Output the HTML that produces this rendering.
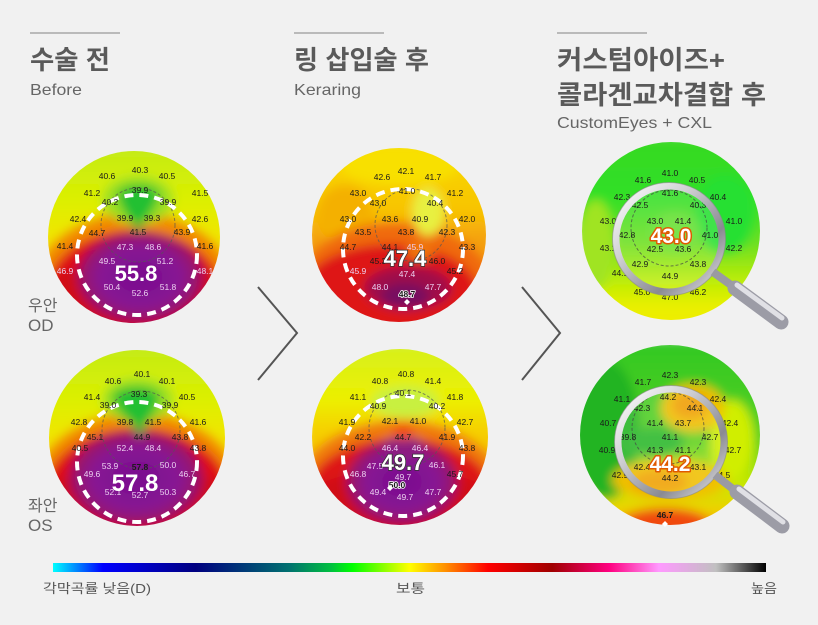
<!DOCTYPE html>
<html><head><meta charset="utf-8"><style>
html,body{margin:0;padding:0;background:#f1f1f1;}
svg{display:block;}
.k{font-family:"Liberation Sans","Noto Sans CJK KR",sans-serif;}
.n{font-family:"Liberation Sans",sans-serif;font-size:8.5px;text-anchor:middle;fill:#1a1a1a;}
.l{fill:#ecd0f0;}
.big{font-family:"Liberation Sans",sans-serif;font-weight:bold;text-anchor:middle;fill:#fff;}
</style></head><body>
<svg width="818" height="625" viewBox="0 0 818 625">
<defs>
 <filter id="b" x="-20%" y="-20%" width="140%" height="140%"><feGaussianBlur stdDeviation="5"/></filter>
 <clipPath id="c1"><circle cx="134" cy="237" r="86"/></clipPath>
 <clipPath id="c4"><circle cx="137" cy="438" r="88"/></clipPath>
 <clipPath id="c2"><circle cx="399" cy="235" r="87"/></clipPath>
 <clipPath id="c5"><circle cx="400" cy="437" r="88"/></clipPath>
 <clipPath id="c3"><circle cx="671" cy="231" r="89"/></clipPath>
 <clipPath id="c6"><circle cx="670" cy="435" r="90"/></clipPath>
 <linearGradient id="gT1" x1="0" y1="0" x2="0" y2="1">
  <stop offset="0" stop-color="#c0ea18"/><stop offset=".3" stop-color="#dcf000"/><stop offset=".5" stop-color="#f2e400"/><stop offset="1" stop-color="#f0c000"/>
 </linearGradient>
 <linearGradient id="gT2" x1="0" y1="0" x2="0" y2="1">
  <stop offset="0" stop-color="#f8dc00"/><stop offset=".35" stop-color="#f8c400"/><stop offset=".5" stop-color="#f4a010"/><stop offset="1" stop-color="#f08010"/>
 </linearGradient>
 <linearGradient id="gT5" x1="0" y1="0" x2="0" y2="1">
  <stop offset="0" stop-color="#d4f020"/><stop offset=".3" stop-color="#ecf000"/><stop offset=".45" stop-color="#f6d000"/><stop offset="1" stop-color="#f09010"/>
 </linearGradient>
 <linearGradient id="gT3" x1="0" y1="0" x2="0" y2="1">
  <stop offset="0" stop-color="#38d820"/><stop offset=".3" stop-color="#30e028"/><stop offset=".55" stop-color="#70e020"/><stop offset=".72" stop-color="#b8ec08"/><stop offset=".85" stop-color="#e8f000"/><stop offset="1" stop-color="#f4ec00"/>
 </linearGradient>
 <linearGradient id="gT6" x1="0" y1="0" x2="0" y2="1">
  <stop offset="0" stop-color="#30c820"/><stop offset=".5" stop-color="#58d020"/><stop offset=".72" stop-color="#c8e800"/><stop offset=".86" stop-color="#f0d000"/><stop offset="1" stop-color="#f07010"/>
 </linearGradient>
 <radialGradient id="pur" cx=".5" cy=".5" r=".5">
  <stop offset="0" stop-color="#780c8e"/><stop offset=".65" stop-color="#881694"/><stop offset="1" stop-color="#a0105c"/>
 </radialGradient>
 <linearGradient id="leg" x1="0" y1="0" x2="1" y2="0">
  <stop offset="0" stop-color="#00ffff"/><stop offset=".07" stop-color="#0000ff"/><stop offset=".2" stop-color="#000080"/><stop offset=".33" stop-color="#007070"/><stop offset=".39" stop-color="#00c040"/><stop offset=".42" stop-color="#00ff00"/><stop offset=".5" stop-color="#ffff00"/><stop offset=".55" stop-color="#ff9000"/><stop offset=".61" stop-color="#ff0000"/><stop offset=".7" stop-color="#a00000"/><stop offset=".78" stop-color="#ff0080"/><stop offset=".85" stop-color="#ff99ff"/><stop offset=".93" stop-color="#c0c0c0"/><stop offset="1" stop-color="#000000"/>
 </linearGradient>
 <linearGradient id="ring" x1="0" y1="0" x2="1" y2="1">
  <stop offset="0" stop-color="#ffffff"/><stop offset=".35" stop-color="#d0d0d4"/><stop offset=".7" stop-color="#8a8a92"/><stop offset="1" stop-color="#e8e8ea"/>
 </linearGradient>
</defs>

<rect width="818" height="625" fill="#f1f1f1"/>

<!-- Titles -->
<rect x="30" y="32" width="90" height="2" fill="#bababa"/>
<rect x="294" y="32" width="90" height="2" fill="#bababa"/>
<rect x="557" y="32" width="90" height="2" fill="#bababa"/>
<text class="k" x="30" y="69" font-size="26" font-weight="bold" fill="#5a5a5a" textLength="80" lengthAdjust="spacingAndGlyphs">수술 전</text>
<text class="k" x="30" y="95" font-size="16" fill="#666" textLength="52" lengthAdjust="spacingAndGlyphs">Before</text>
<text class="k" x="294" y="69" font-size="26" font-weight="bold" fill="#5a5a5a" textLength="135" lengthAdjust="spacingAndGlyphs">링 삽입술 후</text>
<text class="k" x="294" y="95" font-size="16" fill="#666" textLength="67" lengthAdjust="spacingAndGlyphs">Keraring</text>
<text class="k" x="557" y="69" font-size="26" font-weight="bold" fill="#5a5a5a" textLength="168" lengthAdjust="spacingAndGlyphs">커스텀아이즈+</text>
<text class="k" x="557" y="104" font-size="26" font-weight="bold" fill="#5a5a5a" textLength="209" lengthAdjust="spacingAndGlyphs">콜라겐교차결합 후</text>
<text class="k" x="557" y="128" font-size="16" fill="#666" textLength="155" lengthAdjust="spacingAndGlyphs">CustomEyes + CXL</text>

<!-- side labels -->
<text class="k" x="28" y="311" font-size="16" fill="#666">우안</text>
<text class="k" x="28" y="331" font-size="17" fill="#666">OD</text>
<text class="k" x="28" y="511" font-size="16" fill="#666">좌안</text>
<text class="k" x="28" y="531" font-size="17" fill="#666">OS</text>

<!-- arrows -->
<polyline points="258,287 297,333 258,380" fill="none" stroke="#555" stroke-width="2"/>
<polyline points="522,287 560,333 522,380" fill="none" stroke="#555" stroke-width="2"/>

<!-- MAP 1 -->
<g clip-path="url(#c1)">
 <g filter="url(#b)">
  <rect x="40" y="140" width="190" height="200" fill="url(#gT1)"/>
  <ellipse cx="134" cy="292" rx="102" ry="80" fill="#f28a00"/>
  <ellipse cx="134" cy="292" rx="88" ry="62" fill="#de1014"/>
  <ellipse cx="134" cy="300" rx="95" ry="40" fill="#d00a18"/>
  <ellipse cx="140" cy="277" rx="63" ry="45" fill="url(#pur)"/>
  <ellipse cx="138" cy="200" rx="36" ry="24" fill="#9ce020"/>
  <path d="M117,193 C125,182 152,182 160,193 C158,205 145,222 138,232 C131,222 118,205 117,193 Z" fill="#22c030"/>
 </g>
</g>
<circle cx="138" cy="225" r="37" fill="none" stroke="#555" stroke-width="1" stroke-dasharray="3 2" opacity=".7"/>
<circle cx="137" cy="255" r="60" fill="none" stroke="#fff" stroke-width="4" stroke-dasharray="9 6"/>
<g>
 <text x="107" y="179" class="n">40.6</text><text x="140" y="173" class="n">40.3</text><text x="167" y="179" class="n">40.5</text>
 <text x="92" y="196" class="n">41.2</text><text x="140" y="193" class="n">39.9</text><text x="200" y="196" class="n">41.5</text>
 <text x="110" y="205" class="n">40.2</text><text x="168" y="205" class="n">39.9</text>
 <text x="78" y="222" class="n">42.4</text><text x="125" y="221" class="n">39.9</text><text x="152" y="221" class="n">39.3</text><text x="200" y="222" class="n">42.6</text>
 <text x="97" y="236" class="n">44.7</text><text x="138" y="235" class="n">41.5</text><text x="182" y="235" class="n">43.9</text>
 <text x="65" y="249" class="n">41.4</text><text x="125" y="250" class="n l">47.3</text><text x="153" y="250" class="n l">48.6</text><text x="205" y="249" class="n">41.6</text>
 <text x="107" y="264" class="n l">49.5</text><text x="165" y="264" class="n l">51.2</text>
 <text x="65" y="274" class="n l">46.9</text><text x="205" y="274" class="n l">48.1</text>
 <text x="112" y="290" class="n l">50.4</text><text x="140" y="296" class="n l">52.6</text><text x="168" y="290" class="n l">51.8</text>
</g>
<text class="big" x="136" y="281" font-size="22">55.8</text>

<!-- MAP 4 -->
<g clip-path="url(#c4)">
 <g filter="url(#b)">
  <rect x="40" y="340" width="200" height="200" fill="url(#gT1)"/>
  <ellipse cx="137" cy="492" rx="104" ry="80" fill="#f28a00"/>
  <ellipse cx="137" cy="492" rx="92" ry="64" fill="#de1014"/>
  <ellipse cx="137" cy="505" rx="98" ry="40" fill="#d00a18"/>
  <ellipse cx="136" cy="478" rx="67" ry="47" fill="url(#pur)"/>
  <ellipse cx="138" cy="400" rx="36" ry="22" fill="#9ce020"/>
  <path d="M112,395 C122,384 152,384 160,395 C158,408 147,425 140,436 C133,425 114,408 112,395 Z" fill="#22c030"/>
 </g>
</g>
<circle cx="141" cy="430" r="39" fill="none" stroke="#555" stroke-width="1" stroke-dasharray="3 2" opacity=".7"/>
<circle cx="137" cy="462" r="60" fill="none" stroke="#fff" stroke-width="4" stroke-dasharray="9 6"/>
<g>
 <text x="113" y="384" class="n">40.6</text><text x="142" y="377" class="n">40.1</text><text x="167" y="384" class="n">40.1</text>
 <text x="92" y="400" class="n">41.4</text><text x="139" y="397" class="n">39.3</text><text x="187" y="400" class="n">40.5</text>
 <text x="108" y="408" class="n">39.0</text><text x="170" y="408" class="n">39.9</text>
 <text x="79" y="425" class="n">42.8</text><text x="125" y="425" class="n">39.8</text><text x="153" y="425" class="n">41.5</text><text x="198" y="425" class="n">41.6</text>
 <text x="95" y="440" class="n">45.1</text><text x="142" y="440" class="n">44.9</text><text x="180" y="440" class="n">43.8</text>
 <text x="80" y="451" class="n">40.5</text><text x="125" y="451" class="n l">52.4</text><text x="153" y="451" class="n l">48.4</text><text x="198" y="451" class="n">43.8</text>
 <text x="110" y="469" class="n l">53.9</text><text x="140" y="470" class="n" font-weight="bold">57.8</text><text x="168" y="468" class="n l">50.0</text>
 <text x="92" y="477" class="n l">49.6</text><text x="187" y="477" class="n l">46.7</text>
 <text x="113" y="495" class="n l">52.1</text><text x="140" y="498" class="n l">52.7</text><text x="168" y="495" class="n l">50.3</text>
</g>
<text class="big" x="135" y="491" font-size="24">57.8</text>

<!-- MAP 2 -->
<g clip-path="url(#c2)">
 <g filter="url(#b)">
  <rect x="305" y="140" width="190" height="200" fill="url(#gT2)"/>
  <ellipse cx="345" cy="215" rx="28" ry="30" fill="#f4b000"/>
  <ellipse cx="395" cy="292" rx="100" ry="70" fill="#f06a10"/>
  <ellipse cx="390" cy="292" rx="88" ry="48" fill="#de1418"/>
  <ellipse cx="420" cy="252" rx="14" ry="8" fill="#f07810"/>
  <ellipse cx="408" cy="288" rx="44" ry="22" fill="#a01048"/>
  <ellipse cx="405" cy="296" rx="24" ry="13" fill="#781060"/>
  <ellipse cx="428" cy="212" rx="16" ry="24" fill="#e8f040"/>
  <ellipse cx="400" cy="165" rx="60" ry="20" fill="#f8e000"/>
 </g>
</g>
<circle cx="411" cy="225" r="36" fill="none" stroke="#555" stroke-width="1" stroke-dasharray="3 2" opacity=".7"/>
<circle cx="403" cy="249" r="60" fill="none" stroke="#fff" stroke-width="4" stroke-dasharray="9 6"/>
<g>
 <text x="382" y="180" class="n">42.6</text><text x="406" y="174" class="n">42.1</text><text x="433" y="180" class="n">41.7</text>
 <text x="358" y="196" class="n">43.0</text><text x="407" y="194" class="n">41.0</text><text x="455" y="196" class="n">41.2</text>
 <text x="378" y="206" class="n">43.0</text><text x="435" y="206" class="n">40.4</text>
 <text x="348" y="222" class="n">43.0</text><text x="390" y="222" class="n">43.6</text><text x="420" y="222" class="n">40.9</text><text x="467" y="222" class="n">42.0</text>
 <text x="363" y="235" class="n">43.5</text><text x="406" y="235" class="n">43.8</text><text x="447" y="235" class="n">42.3</text>
 <text x="348" y="250" class="n">44.7</text><text x="390" y="250" class="n">44.1</text><text x="415" y="250" class="n l">45.9</text><text x="467" y="250" class="n">43.3</text>
 <text x="378" y="264" class="n">45.3</text><text x="437" y="264" class="n">46.0</text>
 <text x="358" y="274" class="n l">45.9</text><text x="407" y="277" class="n l">47.4</text><text x="455" y="274" class="n">45.2</text>
 <text x="380" y="290" class="n l">48.0</text><text x="433" y="290" class="n l">47.7</text>
 <text x="407" y="297" class="n" font-weight="bold" stroke="#fff" stroke-width="1.5" paint-order="stroke">48.7</text>
</g>
<path d="M407,299 l3,3 -3,3 -3,-3 z" fill="#fff"/>
<text class="big" x="405" y="266" font-size="22" stroke="#333" stroke-width="1.5" paint-order="stroke">47.4</text>

<!-- MAP 5 -->
<g clip-path="url(#c5)">
 <g filter="url(#b)">
  <rect x="305" y="340" width="200" height="200" fill="url(#gT5)"/>
  <ellipse cx="405" cy="402" rx="34" ry="16" fill="#c8f040"/>
  <ellipse cx="400" cy="492" rx="104" ry="72" fill="#f07a10"/>
  <ellipse cx="400" cy="492" rx="92" ry="54" fill="#de1418"/>
  <ellipse cx="400" cy="505" rx="98" ry="36" fill="#d00a18"/>
  <ellipse cx="402" cy="482" rx="56" ry="42" fill="url(#pur)"/>
  <ellipse cx="403" cy="448" rx="22" ry="12" fill="#8c1a80"/>
  <ellipse cx="403" cy="432" rx="10" ry="8" fill="#f05010"/>
 </g>
</g>
<circle cx="407" cy="428" r="38" fill="none" stroke="#555" stroke-width="1" stroke-dasharray="3 2" opacity=".7"/>
<circle cx="403" cy="456" r="60" fill="none" stroke="#fff" stroke-width="4" stroke-dasharray="9 6"/>
<g>
 <text x="380" y="384" class="n">40.8</text><text x="406" y="377" class="n">40.8</text><text x="433" y="384" class="n">41.4</text>
 <text x="358" y="400" class="n">41.1</text><text x="403" y="396" class="n">40.1</text><text x="455" y="400" class="n">41.8</text>
 <text x="378" y="409" class="n">40.9</text><text x="437" y="409" class="n">40.2</text>
 <text x="347" y="425" class="n">41.9</text><text x="390" y="424" class="n">42.1</text><text x="418" y="424" class="n">41.0</text><text x="465" y="425" class="n">42.7</text>
 <text x="363" y="440" class="n">42.2</text><text x="403" y="440" class="n">44.7</text><text x="447" y="440" class="n">41.9</text>
 <text x="347" y="451" class="n">44.0</text><text x="390" y="451" class="n l">46.4</text><text x="420" y="451" class="n l">46.4</text><text x="467" y="451" class="n">43.8</text>
 <text x="375" y="469" class="n l">47.5</text><text x="437" y="468" class="n l">46.1</text>
 <text x="358" y="477" class="n l">46.8</text><text x="403" y="480" class="n l">49.7</text><text x="455" y="477" class="n">45.7</text>
 <text x="397" y="488" class="n" font-weight="bold" stroke="#fff" stroke-width="1.5" paint-order="stroke">50.0</text>
 <text x="378" y="495" class="n l">49.4</text><text x="405" y="500" class="n l">49.7</text><text x="433" y="495" class="n l">47.7</text>
</g>
<path d="M390,485 l3,3 -3,3 -3,-3 z" fill="#fff"/>
<text class="big" x="403" y="470" font-size="22" stroke="#333" stroke-width="1.5" paint-order="stroke">49.7</text>

<!-- MAP 3 -->
<g clip-path="url(#c3)">
 <g filter="url(#b)">
  <rect x="575" y="135" width="195" height="200" fill="url(#gT3)"/>
  <ellipse cx="596" cy="245" rx="18" ry="45" fill="#a0e420"/>
  <ellipse cx="725" cy="215" rx="30" ry="40" fill="#28e030"/>
  <ellipse cx="675" cy="232" rx="25" ry="20" fill="#68e030"/>
 </g>
</g>
<g>
 <circle cx="669" cy="239" r="53" fill="#fff" opacity=".12"/>
 <circle cx="669" cy="228" r="38" fill="none" stroke="#444" stroke-width="1" stroke-dasharray="3 2" opacity=".7"/>
 <text x="643" y="183" class="n">41.6</text><text x="670" y="176" class="n">41.0</text><text x="697" y="183" class="n">40.5</text>
 <text x="622" y="200" class="n">42.3</text><text x="670" y="196" class="n">41.6</text><text x="718" y="200" class="n">40.4</text>
 <text x="640" y="208" class="n">42.5</text><text x="698" y="208" class="n">40.3</text>
 <text x="608" y="224" class="n">43.0</text><text x="655" y="224" class="n">43.0</text><text x="683" y="224" class="n">41.4</text><text x="734" y="224" class="n">41.0</text>
 <text x="627" y="238" class="n">42.8</text><text x="710" y="238" class="n">41.0</text>
 <text x="608" y="251" class="n">43.1</text><text x="655" y="252" class="n">42.5</text><text x="683" y="252" class="n">43.6</text><text x="734" y="251" class="n">42.2</text>
 <text x="640" y="267" class="n">42.9</text><text x="698" y="267" class="n">43.8</text>
 <text x="620" y="276" class="n">44.1</text><text x="670" y="279" class="n">44.9</text>
 <text x="642" y="295" class="n">45.0</text><text x="670" y="300" class="n">47.0</text><text x="698" y="295" class="n">46.2</text>
</g>
<text class="big" x="671" y="243" font-size="21" stroke="#e05a00" stroke-width="3" paint-order="stroke" stroke-linejoin="round">43.0</text>
<circle cx="669" cy="239" r="53" fill="none" stroke="url(#ring)" stroke-width="7"/>
<circle cx="669" cy="239" r="56.5" fill="none" stroke="#888" stroke-width="1" opacity=".6"/>
<line x1="713" y1="272" x2="731" y2="285" stroke="#9a9aa2" stroke-width="8"/>
<line x1="735" y1="288" x2="781" y2="322" stroke="#9c9ca6" stroke-width="15" stroke-linecap="round"/>
<line x1="737" y1="285" x2="782" y2="318" stroke="#ececf0" stroke-width="5" stroke-linecap="round" opacity=".85"/>

<!-- MAP 6 -->
<g clip-path="url(#c6)">
 <g filter="url(#b)">
  <rect x="575" y="340" width="195" height="200" fill="url(#gT6)"/>
  <ellipse cx="605" cy="430" rx="35" ry="70" fill="#22b422"/>
  <ellipse cx="732" cy="440" rx="22" ry="40" fill="#d0ee00"/>
  <ellipse cx="693" cy="408" rx="32" ry="24" fill="#f0c000"/>
  <ellipse cx="690" cy="405" rx="18" ry="14" fill="#f09c00"/>
  <ellipse cx="655" cy="442" rx="30" ry="15" fill="#2cb82c"/>
  <ellipse cx="670" cy="480" rx="58" ry="20" fill="#f0c000"/>
  <ellipse cx="660" cy="482" rx="28" ry="12" fill="#f0a000"/>
  <ellipse cx="665" cy="524" rx="45" ry="16" fill="#f04810"/>
 </g>
</g>
<g>
 <circle cx="671" cy="442" r="53" fill="#fff" opacity=".12"/>
 <circle cx="668" cy="428" r="36" fill="none" stroke="#444" stroke-width="1" stroke-dasharray="3 2" opacity=".7"/>
 <text x="643" y="385" class="n">41.7</text><text x="670" y="378" class="n">42.3</text><text x="698" y="385" class="n">42.3</text>
 <text x="622" y="402" class="n">41.1</text><text x="668" y="400" class="n">44.2</text><text x="718" y="402" class="n">42.4</text>
 <text x="642" y="411" class="n">42.3</text><text x="695" y="411" class="n">44.1</text>
 <text x="608" y="426" class="n">40.7</text><text x="655" y="426" class="n">41.4</text><text x="683" y="426" class="n">43.7</text><text x="730" y="426" class="n">42.4</text>
 <text x="628" y="440" class="n">39.8</text><text x="670" y="440" class="n">41.1</text><text x="710" y="440" class="n">42.7</text>
 <text x="607" y="453" class="n">40.9</text><text x="655" y="453" class="n">41.3</text><text x="683" y="453" class="n">41.1</text><text x="733" y="453" class="n">42.7</text>
 <text x="642" y="470" class="n">42.4</text><text x="698" y="470" class="n">43.1</text>
 <text x="620" y="478" class="n">42.9</text><text x="670" y="481" class="n">44.2</text><text x="722" y="478" class="n">44.5</text>
 <text x="665" y="518" class="n" font-size="11" font-weight="bold">46.7</text>
</g>
<path d="M665,521 l3,3 -3,3 -3,-3 z" fill="#fff"/>
<text class="big" x="670" y="471" font-size="21" stroke="#e05a00" stroke-width="3" paint-order="stroke" stroke-linejoin="round">44.2</text>
<circle cx="671" cy="442" r="53" fill="none" stroke="url(#ring)" stroke-width="7"/>
<circle cx="671" cy="442" r="56.5" fill="none" stroke="#888" stroke-width="1" opacity=".6"/>
<line x1="715" y1="475" x2="733" y2="489" stroke="#9a9aa2" stroke-width="8"/>
<line x1="737" y1="492" x2="782" y2="526" stroke="#9c9ca6" stroke-width="15" stroke-linecap="round"/>
<line x1="739" y1="489" x2="783" y2="522" stroke="#ececf0" stroke-width="5" stroke-linecap="round" opacity=".85"/>

<!-- legend -->
<rect x="53" y="563" width="713" height="9" fill="url(#leg)"/>
<text class="k" x="43" y="593" font-size="13" fill="#555" textLength="108" lengthAdjust="spacingAndGlyphs">각막곡률 낮음(D)</text>
<text class="k" x="396" y="593" font-size="13" fill="#555" textLength="29" lengthAdjust="spacingAndGlyphs">보통</text>
<text class="k" x="751" y="593" font-size="13" fill="#555" textLength="26" lengthAdjust="spacingAndGlyphs">높음</text>
</svg>
</body></html>
